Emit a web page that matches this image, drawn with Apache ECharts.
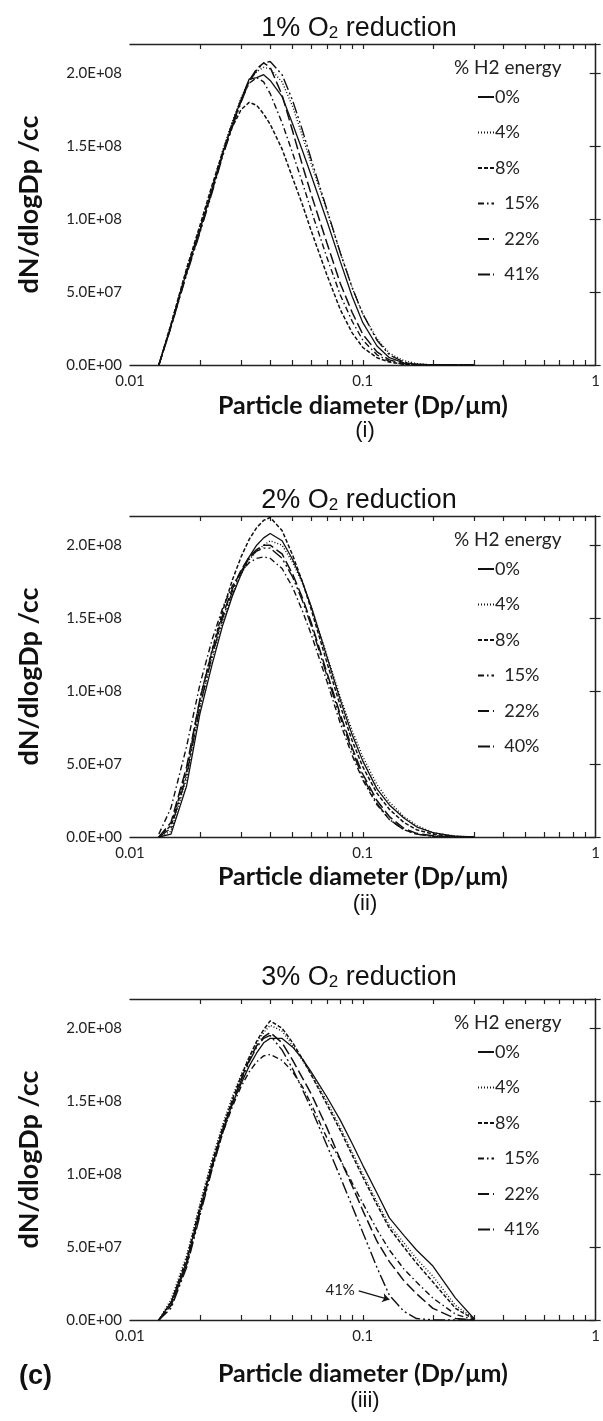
<!DOCTYPE html>
<html>
<head>
<meta charset="utf-8">
<script src="https://cdn.jsdelivr.net/npm/echarts@6/dist/echarts.min.js"></script>
<style>
  html, body { margin: 0; padding: 0; background: #fff; }
  #main { width: 603px; height: 1421px; }
</style>
</head>
<body>
<div id="main"></div>
<script>
// particle diameters (um)
const diam = [0.0133, 0.015, 0.0175, 0.02, 0.0225, 0.025, 0.0275, 0.03, 0.0325, 0.035, 0.0375, 0.04,
  0.045, 0.05, 0.055, 0.06, 0.07, 0.08, 0.09, 0.1, 0.115, 0.13, 0.15, 0.17, 0.2, 0.25, 0.3];

// dN/dlogDp in units of 1E+08 /cc
// (i) 1% O2 reduction
const p1_0 = [0, 0.27, 0.64, 0.93, 1.20, 1.45, 1.65, 1.82, 1.96, 1.97, 1.99, 1.95, 1.84, 1.65, 1.47, 1.30, 0.99, 0.71, 0.47, 0.29, 0.13, 0.05, 0.015, 0.005, 0, 0, 0];
const p1_4 = [0, 0.28, 0.66, 0.95, 1.22, 1.47, 1.67, 1.83, 1.95, 2.01, 2.04, 2.03, 1.94, 1.77, 1.57, 1.38, 1.06, 0.77, 0.53, 0.35, 0.18, 0.08, 0.03, 0.01, 0, 0, 0];
const p1_8 = [0, 0.28, 0.66, 0.96, 1.23, 1.46, 1.63, 1.75, 1.80, 1.78, 1.72, 1.65, 1.48, 1.28, 1.10, 0.92, 0.62, 0.38, 0.22, 0.12, 0.05, 0.02, 0.005, 0, 0, 0, 0];
const p1_15 = [0, 0.27, 0.65, 0.94, 1.21, 1.46, 1.66, 1.82, 1.93, 1.97, 1.94, 1.86, 1.66, 1.45, 1.25, 1.06, 0.74, 0.48, 0.30, 0.17, 0.07, 0.025, 0.005, 0, 0, 0, 0];
const p1_22 = [0, 0.26, 0.63, 0.92, 1.19, 1.44, 1.64, 1.81, 1.95, 2.03, 2.07, 2.04, 1.85, 1.60, 1.37, 1.17, 0.84, 0.56, 0.36, 0.21, 0.09, 0.035, 0.01, 0, 0, 0, 0];
const p1_41 = [0, 0.26, 0.62, 0.91, 1.18, 1.43, 1.63, 1.80, 1.94, 2.02, 2.07, 2.08, 1.99, 1.81, 1.61, 1.41, 1.07, 0.77, 0.53, 0.35, 0.17, 0.07, 0.02, 0.005, 0, 0, 0];

// (ii) 2% O2 reduction
const p2_0 = [0, 0.02, 0.35, 0.85, 1.18, 1.45, 1.65, 1.80, 1.92, 2.00, 2.05, 2.08, 2.03, 1.90, 1.75, 1.58, 1.24, 0.94, 0.70, 0.52, 0.33, 0.22, 0.13, 0.07, 0.03, 0.005, 0];
const p2_4 = [0, 0.04, 0.40, 0.90, 1.22, 1.48, 1.66, 1.80, 1.90, 1.96, 2.00, 2.03, 2.00, 1.88, 1.74, 1.58, 1.25, 0.96, 0.73, 0.55, 0.36, 0.24, 0.14, 0.08, 0.03, 0.005, 0];
const p2_8 = [0, 0.08, 0.45, 0.95, 1.28, 1.55, 1.76, 1.92, 2.04, 2.12, 2.17, 2.19, 2.10, 1.93, 1.75, 1.56, 1.20, 0.90, 0.66, 0.48, 0.30, 0.19, 0.10, 0.05, 0.02, 0.003, 0];
const p2_15 = [0.02, 0.20, 0.62, 1.05, 1.35, 1.57, 1.72, 1.82, 1.88, 1.91, 1.92, 1.91, 1.84, 1.71, 1.55, 1.39, 1.07, 0.78, 0.56, 0.39, 0.22, 0.12, 0.05, 0.02, 0.005, 0, 0];
const p2_22 = [0, 0.10, 0.48, 0.95, 1.27, 1.52, 1.70, 1.83, 1.92, 1.97, 2.00, 2.00, 1.94, 1.80, 1.64, 1.47, 1.13, 0.84, 0.61, 0.43, 0.25, 0.14, 0.06, 0.025, 0.008, 0, 0];
const p2_40 = [0, 0.06, 0.42, 0.90, 1.24, 1.50, 1.68, 1.82, 1.91, 1.96, 1.98, 1.98, 1.91, 1.78, 1.62, 1.45, 1.11, 0.82, 0.59, 0.41, 0.23, 0.12, 0.05, 0.02, 0.005, 0, 0];

// (iii) 3% O2 reduction
const p3_0 = [0, 0.12, 0.40, 0.76, 1.06, 1.30, 1.48, 1.62, 1.74, 1.83, 1.90, 1.93, 1.93, 1.87, 1.79, 1.70, 1.53, 1.37, 1.21, 1.06, 0.87, 0.70, 0.58, 0.48, 0.37, 0.15, 0.01];
const p3_4 = [0, 0.14, 0.44, 0.80, 1.10, 1.34, 1.53, 1.68, 1.80, 1.90, 1.97, 2.02, 1.98, 1.88, 1.78, 1.69, 1.50, 1.32, 1.15, 1.00, 0.81, 0.65, 0.53, 0.42, 0.30, 0.10, 0.01];
const p3_8 = [0, 0.12, 0.42, 0.78, 1.08, 1.32, 1.51, 1.67, 1.80, 1.91, 1.99, 2.05, 2.00, 1.90, 1.79, 1.68, 1.48, 1.30, 1.13, 0.98, 0.79, 0.63, 0.50, 0.39, 0.26, 0.08, 0.005];
const p3_15 = [0, 0.10, 0.38, 0.74, 1.04, 1.28, 1.46, 1.60, 1.70, 1.77, 1.81, 1.82, 1.78, 1.70, 1.60, 1.48, 1.25, 1.10, 0.94, 0.80, 0.62, 0.48, 0.35, 0.26, 0.15, 0.04, 0];
const p3_22 = [0, 0.10, 0.38, 0.74, 1.05, 1.30, 1.49, 1.65, 1.78, 1.88, 1.94, 1.97, 1.90, 1.78, 1.66, 1.55, 1.32, 1.10, 0.92, 0.75, 0.54, 0.40, 0.27, 0.18, 0.08, 0.01, 0];
const p3_41 = [0, 0.08, 0.36, 0.72, 1.03, 1.28, 1.48, 1.64, 1.77, 1.87, 1.93, 1.95, 1.85, 1.72, 1.58, 1.45, 1.20, 0.98, 0.78, 0.60, 0.36, 0.17, 0.06, 0.01, 0, 0, 0];

const panelTitles = ['1% O{sub|2} reduction', '2% O{sub|2} reduction', '3% O{sub|2} reduction'];
const panelTags = ['(i)', '(ii)', '(iii)'];
const panelNames = [
  ['0%', '4%', '8%', '15%', '22%', '41%'],
  ['0%', '4%', '8%', '15%', '22%', '40%'],
  ['0%', '4%', '8%', '15%', '22%', '41%']
];
const panelData = [
  [p1_0, p1_4, p1_8, p1_15, p1_22, p1_41],
  [p2_0, p2_4, p2_8, p2_15, p2_22, p2_40],
  [p3_0, p3_4, p3_8, p3_15, p3_22, p3_41]
];
const xTickLabels = [0.01, 0.1, 1];

// one line style per H2 share, same order as the names
const dashes = ['solid', [1, 2], [4, 2], [6, 3, 1.5, 3], [11, 4], [12, 3, 2, 3, 2, 3]];
const widths = [1.3, 1.4, 1.5, 1.4, 1.5, 1.4];

const gridTops = [44, 516, 999];
const gridH = 321;
const nameGaps = [28, 27, 41];
const tagGaps = [50, 51, 65];
const titleGaps = [34, 34, 40];
const FONT = 'Lato, "Open Sans", sans-serif';
const ARIAL = '"Liberation Sans", Arial, sans-serif';

// minor log ticks 0.02..0.09, 0.1, 0.2..0.9 in log10 space
const minorTicks = [];
[-2, -1].forEach((k) => {
  for (let m = 1; m <= 9; m++) {
    if (k === -2 && m === 1) continue;
    minorTicks.push(Math.log10(m * Math.pow(10, k)));
  }
});

function sci(v) {
  if (Math.abs(v % 5e7) > 1) return '';
  if (v === 0) return '0.0E+00';
  const e = Math.floor(Math.log10(v) + 1e-9);
  const m = v / Math.pow(10, e);
  return m.toFixed(1) + 'E+' + String(e).padStart(2, '0');
}

const grid = [], xAxis = [], yAxis = [], series = [], legend = [], title = [];

gridTops.forEach((top, p) => {
  grid.push({ left: 130, right: 6, top: top, height: gridH });

  const xi = xAxis.length;
  // data axis
  xAxis.push({
    type: 'log', logBase: 10, gridIndex: p, position: 'bottom', min: 0.01, max: 1,
    axisLine: { lineStyle: { color: '#222', width: 1.3 } },
    axisTick: { show: false },
    splitLine: { show: false },
    axisLabel: { color: '#222', fontSize: 15, fontFamily: FONT, margin: 9, showMaxLabel: true,
      formatter: (v) => (xTickLabels.some((t) => Math.abs(t - v) < 1e-9) ? String(v) : '') },
    name: 'Particle diameter (Dp/\u03bcm)', nameLocation: 'middle', nameGap: nameGaps[p],
    nameTextStyle: { color: '#111', fontSize: 25, fontWeight: 'bold', fontFamily: FONT }
  });
  // minor ticks bottom
  xAxis.push({
    type: 'value', gridIndex: p, position: 'bottom', min: -2, max: 0,
    axisLine: { show: false }, splitLine: { show: false }, axisLabel: { show: false },
    axisTick: { show: true, inside: true, length: 5, customValues: minorTicks, lineStyle: { color: '#222', width: 1.2 } }
  });
  // top border with ticks
  xAxis.push({
    type: 'value', gridIndex: p, position: 'top', min: -2, max: 0,
    axisLine: { show: true, lineStyle: { color: '#222', width: 1.3 } },
    splitLine: { show: false }, axisLabel: { show: false },
    axisTick: { show: true, inside: true, length: 5, customValues: minorTicks, lineStyle: { color: '#222', width: 1.2 } }
  });

  const yi = yAxis.length;
  yAxis.push({
    type: 'value', gridIndex: p, position: 'left', min: 0, max: 2.2e8, interval: 5e7,
    axisLine: { show: true, lineStyle: { color: '#222', width: 1.3 } },
    axisTick: { show: true, inside: true, length: 5, lineStyle: { color: '#222', width: 1.2 } },
    splitLine: { show: false },
    axisLabel: { color: '#222', fontSize: 15, fontFamily: FONT, margin: 8, formatter: sci },
    name: 'dN/dlogDp /cc', nameLocation: 'middle', nameGap: 87, nameRotate: 90,
    nameTextStyle: { color: '#111', fontSize: 27, fontWeight: 'bold', fontFamily: FONT }
  });
  yAxis.push({
    type: 'value', gridIndex: p, position: 'right', min: 0, max: 2.2e8, interval: 5e7,
    axisLine: { show: true, lineStyle: { color: '#222', width: 1.3 } },
    axisTick: { show: true, inside: true, length: 6, lineStyle: { color: '#222', width: 1.2 } },
    splitLine: { show: false }, axisLabel: { show: false }
  });

  panelNames[p].forEach((name, s) => {
    const item = {
      name: name, type: 'line', xAxisIndex: xi, yAxisIndex: yi,
      data: diam.map((d, i) => [d, panelData[p][s][i] * 1e8]),
      showSymbol: false, symbol: 'none', smooth: false,
      itemStyle: { color: '#111' },
      lineStyle: { color: '#111', width: widths[s], type: dashes[s] },
      emphasis: { disabled: true }, z: 3 + s
    };
    if (p === 2 && s === 5) {
      item.markLine = {
        silent: true, symbol: ['none', 'arrow'], symbolSize: 7,
        lineStyle: { color: '#111', width: 1.2, type: 'solid' },
        label: { show: true, position: 'start', formatter: '41%', color: '#222', fontSize: 15, fontFamily: FONT, distance: 4 },
        data: [[{ coord: [0.096, 0.2e8] }, { coord: [0.13, 0.14e8] }]]
      };
    }
    series.push(item);
  });

  legend.push({
    data: panelNames[p], orient: 'vertical', left: 472, top: top + 39,
    itemWidth: 16, itemHeight: 10, itemGap: 17.5, selectedMode: false,
    itemStyle: { opacity: 0 },
    formatter: (n) => (n.length > 2 ? '  ' + n : n),
    textStyle: { color: '#222', fontSize: 18, fontFamily: FONT, padding: [0, 0, 0, -4] }
  });

  title.push({
    text: panelTitles[p], left: 354, top: top - titleGaps[p], textAlign: 'center',
    textStyle: { color: '#111', fontSize: 27, fontWeight: 'normal', fontFamily: ARIAL,
      rich: { sub: { fontSize: 17, verticalAlign: 'bottom', padding: [10, 0, 0, 0], fontFamily: ARIAL, color: '#111' } } }
  });
  title.push({
    text: '% H2 energy', left: 449, top: top + 9,
    textStyle: { color: '#222', fontSize: 19, fontWeight: 'normal', fontFamily: FONT }
  });
  title.push({
    text: panelTags[p], left: 360, top: top + gridH + tagGaps[p], textAlign: 'center',
    textStyle: { color: '#111', fontSize: 22, fontWeight: 'normal', fontFamily: ARIAL }
  });
});

title.push({
  text: '(c)', left: 14, top: 1358,
  textStyle: { color: '#111', fontSize: 27, fontWeight: 'bold', fontFamily: ARIAL }
});

const myChart = echarts.init(document.getElementById('main'));
myChart.setOption({
  animation: false,
  backgroundColor: '#fff',
  title: title,
  legend: legend,
  grid: grid,
  xAxis: xAxis,
  yAxis: yAxis,
  series: series
});
</script>
</body>
</html>
